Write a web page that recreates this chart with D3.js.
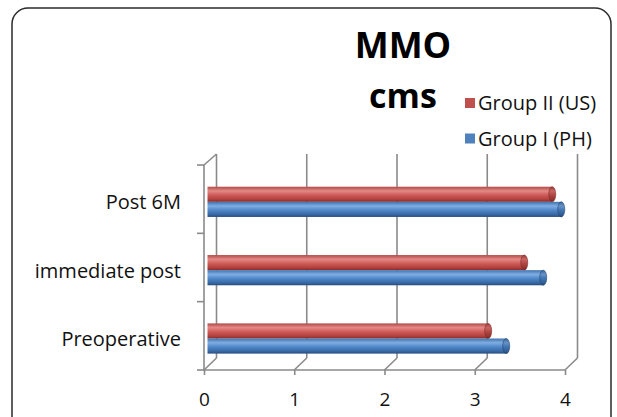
<!DOCTYPE html>
<html>
<head>
<meta charset="utf-8">
<script src="https://cdn.jsdelivr.net/npm/d3@7"></script>
<style>
  html, body { margin: 0; padding: 0; background: #fff; }
  svg { display: block; font-family: "Open Sans", "Noto Sans", sans-serif; }
</style>
</head>
<body>
<svg id="chart" width="617" height="417"></svg>
<script>
// Mean maximum mouth opening (cm) per stage and group
const categories = ["Preoperative", "immediate post", "Post 6M"];
const seriesNames = ["Group II (US)", "Group I (PH)"];
const groupII = [3.11, 3.51, 3.82];
const groupI = [3.31, 3.72, 3.92];
const xTicks = [0, 1, 2, 3, 4];
const titleLines = ["MMO", "cms"];

const svg = d3.select("#chart");

// Frame around the chart
svg.append("rect")
  .attr("x", 12).attr("y", 8)
  .attr("width", 599).attr("height", 430)
  .attr("rx", 16).attr("ry", 16)
  .attr("fill", "#fff")
  .attr("stroke", "#2b2b2b")
  .attr("stroke-width", 1.5);

// Gradients for the cylinder bars
const defs = svg.append("defs");
const palettes = {
  red: ["#b04a47", "#e48986", "#cf5c59", "#b03f3c", "#822c29"],
  blue: ["#3f72ae", "#80ade2", "#4f88c9", "#3767a3", "#264b7c"]
};
const capPalettes = {
  red: ["#9c3f3c", "#c86461", "#b14744", "#93332f", "#732724"],
  blue: ["#36649b", "#6993c8", "#3f74b2", "#315d93", "#234674"]
};
function addGradient(id, cols) {
  const g = defs.append("linearGradient").attr("id", id)
    .attr("x1", 0).attr("y1", 0).attr("x2", 0).attr("y2", 1);
  [0, 0.28, 0.55, 0.85, 1].forEach((o, i) =>
    g.append("stop").attr("offset", o).attr("stop-color", cols[i]));
}
addGradient("gRed", palettes.red);
addGradient("gBlue", palettes.blue);
addGradient("gRedCap", capPalettes.red);
addGradient("gBlueCap", capPalettes.blue);

// Scales: front plane of the 3-D box, plus a depth offset for the back wall
const x = d3.scaleLinear().domain([0, 4]).range([204, 565]);
const y = d3.scaleBand().domain(categories).range([370, 165]).paddingInner(0).paddingOuter(0);
const depth = { dx: 12.5, dy: -12 };
const inner = d3.scaleBand().domain(seriesNames)
  .range([y.bandwidth() * 0.318, y.bandwidth() * 0.76]);
const barShift = 3.5; // bars sit a little into the box
const xBar = v => x(v) + barShift;

const gridColor = "#8a8a8a";
const grid = svg.append("g").attr("stroke", gridColor).attr("stroke-width", 1.6).attr("fill", "none");
const yTop = y.range()[1], yBot = y.range()[0];

// Back wall verticals (value gridlines) and floor diagonals
xTicks.forEach(t => {
  const xf = x(t), xb = x(t) + depth.dx;
  grid.append("line")
    .attr("x1", xb).attr("x2", xb)
    .attr("y1", yTop + depth.dy + 1).attr("y2", yBot + depth.dy);
  grid.append("line")
    .attr("x1", xf).attr("y1", yBot)
    .attr("x2", xb).attr("y2", yBot + depth.dy);
});

// Left side wall: front edge and top diagonal
grid.append("line").attr("x1", x(0)).attr("x2", x(0)).attr("y1", yTop).attr("y2", yBot);
grid.append("line").attr("x1", x(0)).attr("y1", yTop)
  .attr("x2", x(0) + depth.dx).attr("y2", yTop + depth.dy + 1);

// Category boundary ticks on the left edge
const bounds = categories.map(c => y(c)).concat([yBot]);
bounds.forEach(b => {
  grid.append("line").attr("x1", x(0) - 7).attr("x2", x(0)).attr("y1", b).attr("y2", b);
});

// Floor front edge with value ticks
const xAxis = d3.axisBottom(x).tickValues(xTicks).tickSize(5).tickFormat(d3.format("d"));
const axG = svg.append("g").attr("transform", `translate(0,${yBot})`).call(xAxis);
axG.select(".domain").attr("stroke", gridColor).attr("stroke-width", 1.6)
  .attr("d", `M${x(0) - 1},0H${x(4)}`);
axG.selectAll(".tick line").attr("stroke", gridColor).attr("stroke-width", 1.6);
axG.selectAll(".tick text")
  .attr("y", 23)
  .attr("fill", "#111")
  .style("font-family", "'Open Sans', sans-serif")
  .style("font-size", "19px");

// Cylinder bars
const series = [
  { name: seriesNames[0], values: groupII, fill: "url(#gRed)", cap: "url(#gRedCap)", edge: "#7d2b28" },
  { name: seriesNames[1], values: groupI, fill: "url(#gBlue)", cap: "url(#gBlueCap)", edge: "#23466f" }
];
const bars = svg.append("g");
series.forEach(s => {
  categories.forEach((c, i) => {
    const top = y(c) + inner(s.name);
    const h = inner.bandwidth();
    const x0 = xBar(0), x1 = xBar(s.values[i]);
    const rx = 3.5;
    bars.append("rect")
      .attr("x", x0).attr("y", top)
      .attr("width", x1 - x0).attr("height", h)
      .attr("fill", s.fill);
    bars.append("ellipse")
      .attr("cx", x1).attr("cy", top + h / 2)
      .attr("rx", rx).attr("ry", h / 2)
      .attr("fill", s.cap)
      .attr("stroke", s.edge).attr("stroke-width", 0.6);
  });
});

// Category labels
svg.append("g").selectAll("text").data(categories).join("text")
  .attr("x", 181)
  .attr("y", d => y(d) + y.bandwidth() / 2 + 3)
  .attr("dy", "0.35em")
  .attr("text-anchor", "end")
  .attr("fill", "#111")
  .style("font-size", "20px")
  .text(d => d);

// Title
svg.append("text").attr("x", 403).attr("y", 58)
  .attr("text-anchor", "middle").attr("font-weight", 700)
  .style("font-size", "36px").attr("fill", "#000")
  .text(titleLines[0]);
svg.append("text").attr("x", 403).attr("y", 108)
  .attr("text-anchor", "middle").attr("font-weight", 700)
  .style("font-size", "34px").attr("fill", "#000")
  .text(titleLines[1]);

// Legend
const legendItems = [
  { name: seriesNames[0], color: "#c0504d" },
  { name: seriesNames[1], color: "#4f81bd" }
];
const lg = svg.append("g");
legendItems.forEach((d, i) => {
  const cy = 103 + i * 35.5;
  lg.append("rect").attr("x", 465).attr("y", cy - 5).attr("width", 10).attr("height", 10).attr("fill", d.color);
  lg.append("text").attr("x", 478).attr("y", cy).attr("dy", "0.35em")
    .attr("fill", "#111").style("font-size", "20px").text(d.name);
});
</script>
</body>
</html>
